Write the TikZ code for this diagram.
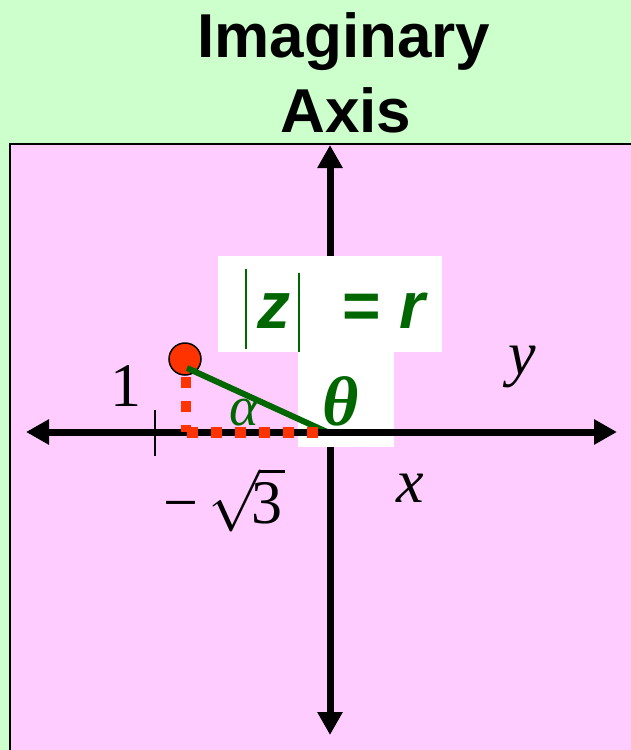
\RequirePackage{fix-cm}
\documentclass[tikz,border=0pt]{standalone}
\usepackage{fontspec}
\setmainfont{Liberation Serif}
\newfontfamily\lsans{Liberation Sans}
\usetikzlibrary{arrows.meta}
\definecolor{bggreen}{RGB}{204,255,204}
\definecolor{pinkbg}{RGB}{255,204,255}
\definecolor{dkgreen}{RGB}{0,102,0}
\definecolor{ptred}{RGB}{255,51,0}
\tikzset{
  axisline/.style={line width=7pt, {Triangle[length=23pt,width=24pt]}-{Triangle[length=23pt,width=24pt]}},
  titletext/.style={anchor=base, inner sep=0pt, font=\lsans\bfseries\fontsize{62}{70}\selectfont},
  eqtext/.style={inner sep=0pt, text=dkgreen, font=\lsans\bfseries\fontsize{66}{72}\selectfont},
  mathlbl/.style={inner sep=0pt, font=\fontsize{62}{70}\selectfont},
  greeklbl/.style={inner sep=0pt, text=dkgreen},
  reddots/.style={draw=ptred, line width=10.5pt, dash pattern=on 11pt off 13pt},
  bar/.style={draw=dkgreen, line width=2pt},
}
\begin{document}
\begin{tikzpicture}[x=1pt,y=-1pt]
\clip (0,0) rectangle (631,750);
\fill[bggreen] (0,0) rectangle (631,750);
\filldraw[fill=pinkbg, draw=black, line width=2.5pt] (10,144) rectangle (660,770);
% title
\node[titletext] (t1) at (344,57) {Imaginary};
\node[titletext] (t2) at (346,132) {Axis};
% vertical axis
\coordinate (vtop) at (330,145);
\coordinate (vbot) at (330,735);
\draw[axisline] (vbot) -- (vtop);
% white boxes
\fill[white] (218,256) rectangle (442,352);
\fill[white] (298,256) rectangle (394,447);
% point
\node[circle, fill=ptred, draw=black, line width=1.5pt, minimum size=32pt, inner sep=0pt] (pt) at (185,359) {};
\coordinate (p) at (187,368);
\coordinate (o) at (327,432);
\draw[dkgreen, line width=6pt] (p) -- (o);
% horizontal axis
\coordinate (hl) at (26,432);
\coordinate (hr) at (617,432);
\draw[axisline] (hl) -- (hr);
% red dotted projections
\coordinate (d1) at (186,377);
\coordinate (d2) at (186,432);
\coordinate (d3) at (187,432.5);
\coordinate (d4) at (320,432.5);
\draw[reddots] (d1) -- (d2);
\draw[reddots] (d3) -- (d4);
% tick
\coordinate (tk1) at (155,410);
\coordinate (tk2) at (155,456);
\draw[line width=2pt] (tk1) -- (tk2);
% |z| = r
\draw[bar] (246,269) -- (246,349);
\draw[bar] (299,273) -- (299,352);
\node[eqtext] (zz) at (274,311) {\itshape z};
\node[eqtext] (eq) at (362,311) {=};
\node[eqtext] (rr) at (412,311) {\itshape r};
% labels
\node[mathlbl] (one) at (125.5,386) {1};
\node[mathlbl] (ylbl) at (522,367) {\itshape y};
\node[mathlbl] (xlbl) at (410,488) {\itshape x};
\node[mathlbl, anchor=base west] (sq) at (163,523) {−\,$\sqrt{\kern-9pt\mbox{3}\kern3pt}$};
\node[greeklbl, font=\itshape\fontsize{56}{62}\selectfont] (al) at (244,413) {α};
\node[greeklbl, font=\bfseries\itshape\fontsize{70}{76}\selectfont] (th) at (341,401) {θ};
\end{tikzpicture}
\end{document}
